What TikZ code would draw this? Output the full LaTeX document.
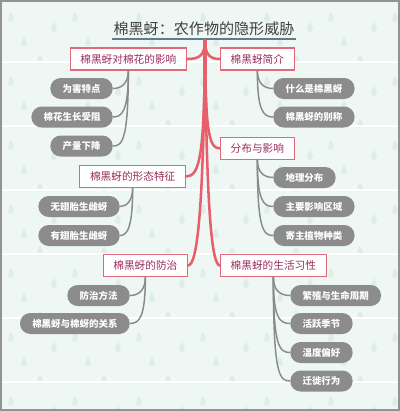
\documentclass[tikz,border=0pt]{standalone}
\usepackage{fontspec}
\setmainfont{Noto Sans CJK SC}
\usetikzlibrary{calc}
\definecolor{bg}{HTML}{EEF7F4}
\definecolor{dropc}{HTML}{DDEEE9}
\definecolor{boxred}{HTML}{E06A7A}
\definecolor{boxtext}{HTML}{9A2C5C}
\definecolor{trunkred}{HTML}{E65F6B}
\definecolor{pillgray}{HTML}{8C8C8C}
\definecolor{twiggray}{HTML}{8A8A8A}
\definecolor{titleline}{HTML}{5F7C8A}
\tikzset{
  topic/.style={draw=boxred, fill=white, line width=0.8pt, text=boxtext,
    font=\fontsize{8}{9}\selectfont, inner xsep=7.6pt, inner ysep=0pt,
    minimum height=16.5pt},
  leaf/.style={fill=pillgray, text=white, rounded corners=7.8pt,
    font=\fontsize{7.1}{8}\selectfont\bfseries, inner xsep=9.2pt, inner ysep=0pt,
    minimum height=15.75pt},
  branch/.style={draw=trunkred, line width=1.9pt, line cap=round},
  twig/.style={draw=twiggray, line width=1.1pt},
}
\newcommand{\lefttwig}[2]{\draw[twig] (#1.south) .. controls ($(#1.south|-#2.east)+(0,-6)$) and ($(#1.south|-#2.east)+(-6,0)$) .. (#2.east);}
\newcommand{\righttwig}[2]{\draw[twig] (#1.south) .. controls ($(#1.south|-#2.west)+(0,-6)$) and ($(#1.south|-#2.west)+(6,0)$) .. (#2.west);}
\begin{document}
\begin{tikzpicture}[x=0.75pt,y=-0.75pt]
\useasboundingbox (0,0) rectangle (400,411);
% background
\fill[bg] (0,0) rectangle (400,411);
\begin{scope}
\clip (1,1) rectangle (399,410);
\foreach \i in {-1,...,6}{
  \foreach \j in {-1,...,6}{
    \foreach \dx/\dy in {32/0, 2/14, 18/32, 53/54}{
      \fill[dropc, shift={(22+64*\i+\dx, 27+64*\j+\dy)}]
        (0,-5) .. controls (1,-2) and (3,-1) .. (3,2)
        .. controls (3,4) and (1.5,5) .. (0,5)
        .. controls (-1.5,5) and (-3,4) .. (-3,2)
        .. controls (-3,-1) and (-1,-2) .. cycle;
    }
  }
}
\foreach \y in {62,126,190,254,318,382}{
  \draw[white, line width=0.8pt] (0,\y) -- (400,\y);
}
\end{scope}
\draw[gray!85, line width=1.2pt] (0.8,0.8) rectangle (399.2,410.2);

% title
\node[anchor=south, font=\fontsize{11.3}{13}\selectfont, text=black!75, inner xsep=1pt, inner ysep=2.2pt] (title) at (204,39) {棉黑蚜：农作物的隐形威胁};
\draw[titleline, line width=1.1pt] (title.south west) -- (title.south east);
\coordinate (root) at (205,40);

% main topics
\node[topic, anchor=east] (t1) at (187,59) {棉黑蚜对棉花的影响};
\node[topic, anchor=east] (t2) at (186,176.5) {棉黑蚜的形态特征};
\node[topic, anchor=east] (t3) at (188,265.5) {棉黑蚜的防治};
\node[topic, anchor=west] (t4) at (220,59) {棉黑蚜简介};
\node[topic, anchor=west] (t5) at (220,148.5) {分布与影响};
\node[topic, anchor=west] (t6) at (220,265.5) {棉黑蚜的生活习性};

% trunk branches
\draw[trunkred, line width=2.6pt] (root) -- (205,75);
\draw[branch] (root) .. controls (205,56) and (199,59) .. (t1.east);
\draw[branch] (root) .. controls (205,56) and (211,59) .. (t4.west);
\draw[branch] (root) .. controls (205.5,128) and (208,148.5) .. (t5.west);
\draw[branch] (root) .. controls (204.5,155) and (200,176.5) .. (t2.east);
\draw[branch] (root) .. controls (203.5,215) and (197,265.5) .. (t3.east);
\draw[branch] (root) .. controls (206.5,215) and (212,265.5) .. (t6.west);

% leaves left
\node[leaf, anchor=east] (l1) at (113,88.5) {为害特点};
\node[leaf, anchor=east] (l2) at (113,117) {棉花生长受阻};
\node[leaf, anchor=east] (l3) at (113,146) {产量下降};
\node[leaf, anchor=east] (l4) at (120,206.5) {无翅胎生雌蚜};
\node[leaf, anchor=east] (l5) at (120,235.5) {有翅胎生雌蚜};
\node[leaf, anchor=east] (l6) at (130,295.5) {防治方法};
\node[leaf, anchor=east] (l7) at (130,323.5) {棉黑蚜与棉蚜的关系};
% leaves right
\node[leaf, anchor=west] (r1) at (273,88.5) {什么是棉黑蚜};
\node[leaf, anchor=west] (r2) at (273,117) {棉黑蚜的别称};
\node[leaf, anchor=west] (r3) at (273,177.5) {地理分布};
\node[leaf, anchor=west] (r4) at (273,206.5) {主要影响区域};
\node[leaf, anchor=west] (r5) at (273,235.5) {寄主植物种类};
\node[leaf, anchor=west] (r6) at (290,295.5) {繁殖与生命周期};
\node[leaf, anchor=west] (r7) at (290,323.5) {活跃季节};
\node[leaf, anchor=west] (r8) at (290,352.5) {温度偏好};
\node[leaf, anchor=west] (r9) at (290,381) {迁徙行为};

% twigs
\lefttwig{t1}{l1}
\lefttwig{t1}{l2}
\lefttwig{t1}{l3}
\lefttwig{t2}{l4}
\lefttwig{t2}{l5}
\lefttwig{t3}{l6}
\lefttwig{t3}{l7}
\righttwig{t4}{r1}
\righttwig{t4}{r2}
\righttwig{t5}{r3}
\righttwig{t5}{r4}
\righttwig{t5}{r5}
\righttwig{t6}{r6}
\righttwig{t6}{r7}
\righttwig{t6}{r8}
\righttwig{t6}{r9}
\end{tikzpicture}
\end{document}
